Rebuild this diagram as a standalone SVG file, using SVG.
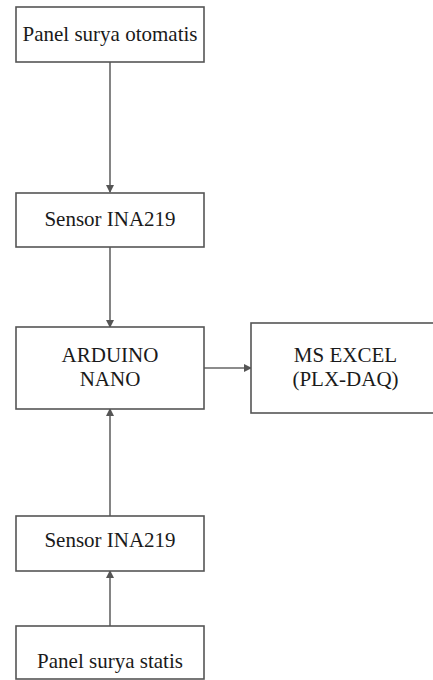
<svg xmlns="http://www.w3.org/2000/svg" width="433" height="680" viewBox="0 0 433 680">
<style>
.box{fill:#fff;stroke:#555;stroke-width:1.6}
.t{font-family:'Liberation Serif','Times New Roman',serif;font-size:21px;fill:#1a1a1a;text-anchor:middle}
.c{stroke:#666;stroke-width:1.6;fill:none;marker-end:url(#ah)}
</style>
<defs>
<marker id="ah" markerWidth="8" markerHeight="8" refX="7" refY="4" orient="auto" markerUnits="userSpaceOnUse">
<path d="M0,0 L8,4 L0,8 Z" fill="#555"/>
</marker>
</defs>
<rect width="433" height="680" fill="#fff"/>
<g id="connectors">
<line class="c" x1="110" y1="62" x2="110" y2="192"/>
<line class="c" x1="110" y1="247" x2="110" y2="327"/>
<line class="c" x1="204" y1="368" x2="251" y2="368"/>
<line class="c" x1="110" y1="516" x2="110" y2="409"/>
<line class="c" x1="110" y1="626" x2="110" y2="571"/>
</g>
<g id="panel-otomatis">
<rect class="box" x="16" y="7" width="188" height="55"/>
<text class="t" x="110" y="41">Panel surya otomatis</text>
</g>
<g id="sensor-1">
<rect class="box" x="16" y="193" width="188" height="54"/>
<text class="t" x="110" y="226">Sensor INA219</text>
</g>
<g id="arduino">
<rect class="box" x="16" y="327" width="188" height="82"/>
<text class="t" x="110" y="362">ARDUINO</text>
<text class="t" x="110" y="386">NANO</text>
</g>
<g id="excel">
<rect class="box" x="251" y="323" width="190" height="90"/>
<text class="t" x="345.5" y="362">MS EXCEL</text>
<text class="t" x="345.5" y="386">(PLX-DAQ)</text>
</g>
<g id="sensor-2">
<rect class="box" x="16" y="516" width="188" height="55"/>
<text class="t" x="110" y="547">Sensor INA219</text>
</g>
<g id="panel-statis">
<rect class="box" x="16" y="626" width="188" height="53"/>
<text class="t" x="110" y="668">Panel surya statis</text>
</g>
</svg>
